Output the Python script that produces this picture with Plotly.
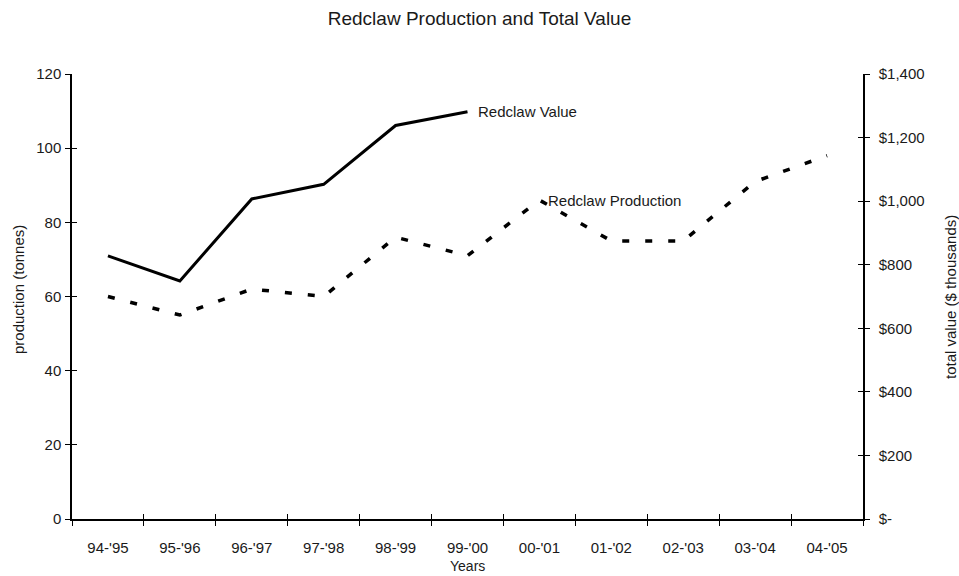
import plotly.graph_objects as go

# ---- data ----
years = ["94-'95", "95-'96", "96-'97", "97-'98", "98-'99", "99-'00",
         "00-'01", "01-'02", "02-'03", "03-'04", "04-'05"]
production = [60, 55, 62, 60, 76, 71, 86, 75, 75, 91, 98]          # tonnes
value_years = years[:6]
value = [828, 749, 1007, 1053, 1238, 1281]                        # $ thousands

left_ticks = [0, 20, 40, 60, 80, 100, 120]
right_ticks = [0, 200, 400, 600, 800, 1000, 1200, 1400]
right_labels = ["$-", "$200", "$400", "$600", "$800", "$1,000", "$1,200", "$1,400"]

FONT = "Arial, Liberation Sans, sans-serif"
TXT = "#1a1a1a"

fig = go.Figure()
fig.add_trace(go.Scatter(x=years, y=production, mode="lines", name="Redclaw Production",
                         line=dict(color="black", width=3.5, dash="7px,16px"),
                         xaxis="x", yaxis="y"))
fig.add_trace(go.Scatter(x=value_years, y=value, mode="lines", name="Redclaw Value",
                         line=dict(color="black", width=3),
                         xaxis="x", yaxis="y2"))
# empty helper traces so the inside-tick overlay axes are drawn
fig.add_trace(go.Scatter(x=[], y=[], xaxis="x2", yaxis="y3", showlegend=False))
fig.add_trace(go.Scatter(x=[], y=[], xaxis="x2", yaxis="y4", showlegend=False))

n = len(years)
bounds = [i - 0.5 for i in range(n + 1)]

fig.update_layout(
    width=959, height=576,
    margin=dict(l=72, r=96, t=74, b=57),
    paper_bgcolor="white", plot_bgcolor="white",
    showlegend=False,
    font=dict(family=FONT, size=15, color=TXT),
    title=dict(text="Redclaw Production and Total Value", x=0.5, xanchor="center",
               y=1 - 18 / 576, yanchor="middle", yref="container",
               font=dict(family=FONT, size=19, color=TXT)),
    xaxis=dict(type="category", categoryorder="array", categoryarray=years,
               range=[-0.5, n - 0.5], tickson="boundaries",
               ticks="outside", ticklen=5, tickwidth=1.3, tickcolor="black",
               showline=True, linecolor="black", linewidth=1.5,
               showgrid=False, zeroline=False, ticklabelstandoff=14,
               tickfont=dict(size=15), automargin=False),
    xaxis2=dict(overlaying="x", anchor="y", side="bottom", type="linear",
                range=[-0.5, n - 0.5], tickmode="array", tickvals=bounds,
                ticks="inside", ticklen=5, tickwidth=1.3, tickcolor="black",
                showticklabels=False, showline=False, showgrid=False, zeroline=False,
                automargin=False),
    yaxis=dict(range=[0, 120], tickmode="array", tickvals=left_ticks,
               ticks="outside", ticklen=5, tickwidth=1.3, tickcolor="black",
               showline=True, linecolor="black", linewidth=1.5,
               showgrid=False, zeroline=False, ticklabelstandoff=1,
               tickfont=dict(size=15), automargin=False),
    yaxis2=dict(range=[0, 1400], overlaying="y", side="right", anchor="x",
                tickmode="array", tickvals=right_ticks, ticktext=right_labels,
                ticks="outside", ticklen=5, tickwidth=1.3, tickcolor="black",
                showline=True, linecolor="black", linewidth=1.5,
                showgrid=False, zeroline=False, ticklabelstandoff=6,
                tickfont=dict(size=15), automargin=False),
    yaxis3=dict(range=[0, 120], overlaying="y", side="left", anchor="x2",
                tickmode="array", tickvals=left_ticks,
                ticks="inside", ticklen=5, tickwidth=1.3, tickcolor="black",
                showticklabels=False, showline=False, showgrid=False, zeroline=False,
                automargin=False),
    yaxis4=dict(range=[0, 1400], overlaying="y", side="right", anchor="x2",
                tickmode="array", tickvals=right_ticks,
                ticks="inside", ticklen=5, tickwidth=1.3, tickcolor="black",
                showticklabels=False, showline=False, showgrid=False, zeroline=False,
                automargin=False),
)

# axis titles
fig.add_annotation(text="Years", xref="paper", yref="paper",
                   x=0.5, y=-(566 - 519) / 445, showarrow=False,
                   xanchor="center", yanchor="middle", font=dict(size=14, color=TXT))
fig.add_annotation(text="production (tonnes)", xref="paper", yref="paper",
                   x=-(72 - 18) / 791, y=0.5 + (296.5 - 290) / 445,
                   textangle=-90, showarrow=False, xanchor="center", yanchor="middle",
                   font=dict(size=15, color=TXT))
fig.add_annotation(text="total value ($ thousands)", xref="paper", yref="paper",
                   x=1 + (950 - 863) / 791, y=0.5 + (296.5 - 297) / 445,
                   textangle=-90, showarrow=False, xanchor="center", yanchor="middle",
                   font=dict(size=15, color=TXT))

# series labels
fig.add_annotation(text="Redclaw Value", x=value_years[-1], y=value[-1], xref="x", yref="y2",
                   showarrow=False, xanchor="left", yanchor="middle", xshift=8,
                   font=dict(size=15, color=TXT))
fig.add_annotation(text="Redclaw Production", x=years[6], y=production[6], xref="x", yref="y",
                   showarrow=False, xanchor="left", yanchor="middle", xshift=7,
                   font=dict(size=15, color=TXT))

fig.write_html("out.html", config={"displayModeBar": False},
               post_script="document.body.style.margin='0';document.body.style.padding='0';")
